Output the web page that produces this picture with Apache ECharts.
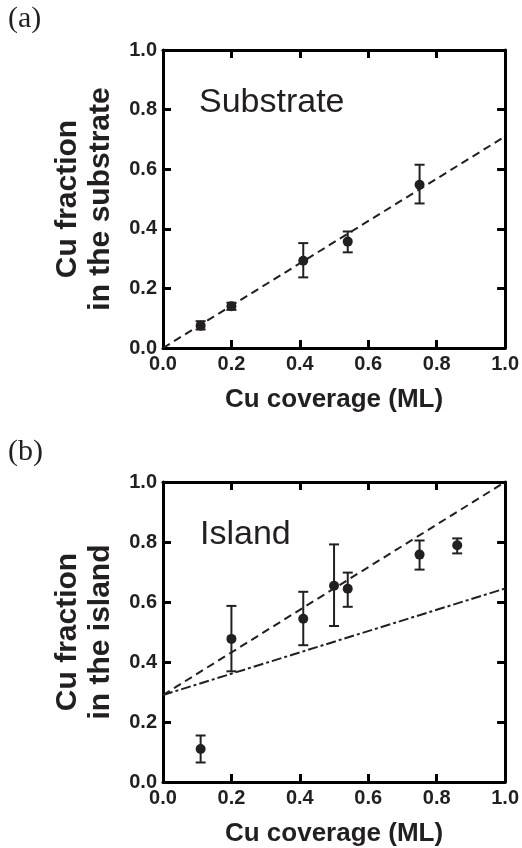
<!DOCTYPE html>
<html>
<head>
<meta charset="utf-8">
<script src="https://cdn.jsdelivr.net/npm/echarts@6/dist/echarts.min.js"></script>
<style>
  html, body { margin: 0; padding: 0; background: #fff; }
  #chart { width: 522px; height: 848px; }
</style>
</head>
<body>
<div id="chart"></div>
<script>
// (a) substrate
var subX = [0.11, 0.20, 0.41, 0.54, 0.75]
var subY = [0.075, 0.14, 0.293, 0.357, 0.548]
var subLo = [0.062, 0.128, 0.237, 0.321, 0.485]
var subHi = [0.090, 0.152, 0.352, 0.391, 0.615]
var subFit = [[0, 0], [1, 0.71]]

// (b) island
var islX = [0.11, 0.20, 0.41, 0.50, 0.54, 0.75, 0.86]
var islY = [0.11, 0.477, 0.544, 0.654, 0.644, 0.758, 0.789]
var islLo = [0.065, 0.369, 0.456, 0.52, 0.584, 0.708, 0.762]
var islHi = [0.155, 0.587, 0.634, 0.792, 0.698, 0.805, 0.812]
var islFitDash = [[0, 0.29], [1, 1.0]]
var islFitDashDot = [[0, 0.29], [1, 0.645]]

var ticks = [0, 1, 0.2]   // min, max, interval
var ink = '#231f20'

var myChart = echarts.init(document.getElementById('chart'))

function pts(xs, ys) {
    return xs.map(function (x, i) { return [x, ys[i]] })
}
function bars(xs, lo, hi) {
    return xs.map(function (x, i) { return [x, lo[i], hi[i]] })
}

// error bar: vertical line with caps
function errRender(params, api) {
    var a = api.coord([api.value(0), api.value(1)])
    var b = api.coord([api.value(0), api.value(2)])
    var w = 5
    var st = { stroke: ink, lineWidth: 2 }
    return {
        type: 'group',
        children: [
            { type: 'line', shape: { x1: a[0], y1: a[1], x2: b[0], y2: b[1] }, style: st },
            { type: 'line', shape: { x1: a[0] - w, y1: a[1], x2: a[0] + w, y2: a[1] }, style: st },
            { type: 'line', shape: { x1: b[0] - w, y1: b[1], x2: b[0] + w, y2: b[1] }, style: st }
        ]
    }
}

function xAxes(grid) {
    var base = {
        type: 'value', gridIndex: grid, min: ticks[0], max: ticks[1], interval: ticks[2],
        axisLine: { onZero: false, lineStyle: { color: '#000', width: 3 } },
        axisTick: { inside: true, length: 8, lineStyle: { color: '#000', width: 3 } },
        splitLine: { show: false }
    }
    return [
        Object.assign({}, base, {
            position: 'bottom',
            name: 'Cu coverage (ML)', nameLocation: 'middle', nameGap: 39,
            nameTextStyle: { fontFamily: 'Liberation Sans', fontWeight: 'bold', fontSize: 26, color: ink },
            axisLabel: {
                margin: 6, fontFamily: 'Liberation Sans', fontWeight: 'bold', fontSize: 20, color: ink,
                formatter: function (v) { return v.toFixed(1) }
            }
        }),
        Object.assign({}, base, { position: 'top', axisLabel: { show: false } })
    ]
}

function yAxes(grid, name) {
    var base = {
        type: 'value', gridIndex: grid, min: ticks[0], max: ticks[1], interval: ticks[2],
        axisLine: { onZero: false, lineStyle: { color: '#000', width: 3 } },
        axisTick: { inside: true, length: 8, lineStyle: { color: '#000', width: 3 } },
        splitLine: { show: false }
    }
    return [
        Object.assign({}, base, {
            position: 'left',
            name: name, nameLocation: 'middle', nameGap: 46, nameRotate: 90,
            nameTextStyle: { fontFamily: 'Liberation Sans', fontWeight: 'bold', fontSize: 30, color: ink, lineHeight: 33 },
            axisLabel: {
                margin: 6, fontFamily: 'Liberation Sans', fontWeight: 'bold', fontSize: 20, color: ink,
                formatter: function (v) { return v.toFixed(1) }
            }
        }),
        Object.assign({}, base, { position: 'right', axisLabel: { show: false } })
    ]
}

var option = {
    animation: false,
    backgroundColor: '#fff',
    grid: [
        { left: 163, top: 50, width: 345, height: 298 },
        { left: 163, top: 482, width: 345, height: 300 }
    ],
    xAxis: xAxes(0).concat(xAxes(1)),
    yAxis: yAxes(0, 'Cu fraction\nin the substrate').concat(yAxes(1, 'Cu fraction\nin the island')),
    graphic: [
        { type: 'text', left: 8, top: 4, style: { text: '(a)', font: '30px "Liberation Serif"', fill: ink } },
        { type: 'text', left: 8, top: 437, style: { text: '(b)', font: '30px "Liberation Serif"', fill: ink } },
        { type: 'text', left: 199, top: 86, style: { text: 'Substrate', font: '34px "Liberation Sans"', fill: ink } },
        { type: 'text', left: 200, top: 518, style: { text: 'Island', font: '34px "Liberation Sans"', fill: ink } }
    ],
    series: [
        {
            type: 'line', xAxisIndex: 0, yAxisIndex: 0, data: subFit, symbol: 'none',
            lineStyle: { color: ink, width: 2, type: [8, 5] }
        },
        {
            type: 'custom', xAxisIndex: 0, yAxisIndex: 0, renderItem: errRender,
            data: bars(subX, subLo, subHi), z: 3
        },
        {
            type: 'scatter', xAxisIndex: 0, yAxisIndex: 0, data: pts(subX, subY),
            symbolSize: 10, itemStyle: { color: ink, opacity: 1 }, z: 4
        },
        {
            type: 'line', xAxisIndex: 2, yAxisIndex: 2, data: islFitDash, symbol: 'none',
            lineStyle: { color: ink, width: 2, type: [8, 5] }
        },
        {
            type: 'line', xAxisIndex: 2, yAxisIndex: 2, data: islFitDashDot, symbol: 'none',
            lineStyle: { color: ink, width: 2, type: [10, 3, 3, 3] }
        },
        {
            type: 'custom', xAxisIndex: 2, yAxisIndex: 2, renderItem: errRender,
            data: bars(islX, islLo, islHi), z: 3
        },
        {
            type: 'scatter', xAxisIndex: 2, yAxisIndex: 2, data: pts(islX, islY),
            symbolSize: 10, itemStyle: { color: ink, opacity: 1 }, z: 4
        }
    ]
}
myChart.setOption(option)
</script>
</body>
</html>
